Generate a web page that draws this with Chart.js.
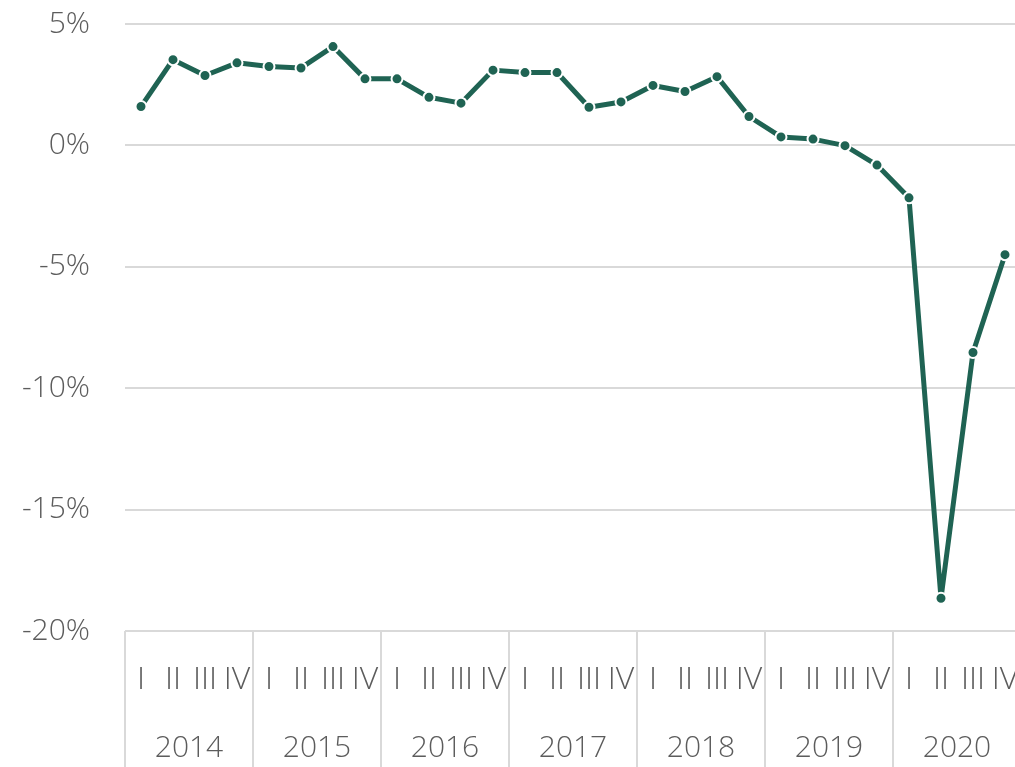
<!DOCTYPE html>
<html>
<head>
<meta charset="utf-8">
<script src="https://cdn.jsdelivr.net/npm/chart.js@4"></script>
<style>
html,body{margin:0;padding:0;background:#fff;overflow:hidden;}
#wrap{width:1015px;height:767px;overflow:hidden;}
canvas{display:block;}
</style>
</head>
<body>
<div id="wrap"><canvas id="c" width="1021" height="767" style="width:1021px;height:767px"></canvas></div>
<script>
const years = ['2014','2015','2016','2017','2018','2019','2020'];
const quarterNames = ['I','II','III','IV'];
const quarterLabels = [];
years.forEach(() => quarterNames.forEach(q => quarterLabels.push(q)));
const growth = [
  1.60, 3.53, 2.88, 3.40,
  3.25, 3.19, 4.07, 2.74,
  2.74, 1.98, 1.74, 3.10,
  3.00, 3.00, 1.57, 1.79,
  2.47, 2.22, 2.83, 1.19,
  0.35, 0.26, -0.01, -0.81,
  -2.16, -18.65, -8.53, -4.50
];
const yTicks = [5, 0, -5, -10, -15, -20];

const FONT = '"Open Sans", sans-serif';
const TEXT = '#5c5c5c';
const GRID = '#d9d9d9';
const LINE = '#1f6353';

function noPad(axis) {
  axis.paddingTop = 0; axis.paddingBottom = 0;
  axis.paddingLeft = 0; axis.paddingRight = 0;
}

const separators = {
  id: 'separators',
  afterDraw(chart) {
    const s = chart.scales.x2;
    const ctx = chart.ctx;
    const step = s.getPixelForValue(1) - s.getPixelForValue(0);
    ctx.save();
    ctx.strokeStyle = GRID;
    ctx.lineWidth = 2;
    for (let i = 0; i <= years.length; i++) {
      const x = (i < years.length ? s.getPixelForValue(i) - step / 2 : s.getPixelForValue(years.length - 1) + step / 2);
      ctx.beginPath();
      ctx.moveTo(x, chart.chartArea.bottom);
      ctx.lineTo(x, chart.height);
      ctx.stroke();
    }
    ctx.restore();
  }
};

new Chart(document.getElementById('c'), {
  type: 'line',
  data: {
    labels: quarterLabels,
    datasets: [{
      data: growth,
      borderColor: LINE,
      backgroundColor: LINE,
      borderWidth: 5,
      borderJoinStyle: 'round',
      pointRadius: 5.5,
      pointBorderWidth: 2,
      pointBorderColor: '#ffffff',
      pointBackgroundColor: LINE,
      tension: 0,
      clip: false
    }]
  },
  options: {
    responsive: false,
    animation: false,
    devicePixelRatio: 1,
    layout: { autoPadding: false, padding: { top: 24, right: 0, left: 0, bottom: 0 } },
    plugins: { legend: { display: false }, tooltip: { enabled: false } },
    scales: {
      y: {
        min: -20, max: 5,
        afterBuildTicks(axis) { axis.ticks = yTicks.map(v => ({ value: v })); },
        afterFit(axis) { axis.width = 125; noPad(axis); },
        grid: { color: GRID, lineWidth: 2, drawTicks: false },
        border: { display: false },
        ticks: {
          padding: 35,
          color: TEXT,
          font: { family: FONT, size: 30, weight: 300 },
          callback: v => v + '%'
        }
      },
      x: {
        offset: true,
        position: 'bottom',
        afterFit(axis) { axis.height = 76; noPad(axis); },
        grid: { display: false, drawTicks: false },
        border: { display: false },
        ticks: {
          autoSkip: false, maxRotation: 0, minRotation: 0,
          padding: 30,
          color: TEXT,
          font: { family: FONT, size: 32, weight: 300 }
        }
      },
      x2: {
        type: 'category',
        labels: years,
        offset: true,
        position: 'bottom',
        afterFit(axis) { axis.height = 60; noPad(axis); },
        grid: { display: false, drawTicks: false },
        border: { display: false },
        ticks: {
          autoSkip: false, maxRotation: 0, minRotation: 0,
          padding: 23,
          color: TEXT,
          font: { family: FONT, size: 30, weight: 300 }
        }
      }
    }
  },
  plugins: [separators]
});
</script>
</body>
</html>
